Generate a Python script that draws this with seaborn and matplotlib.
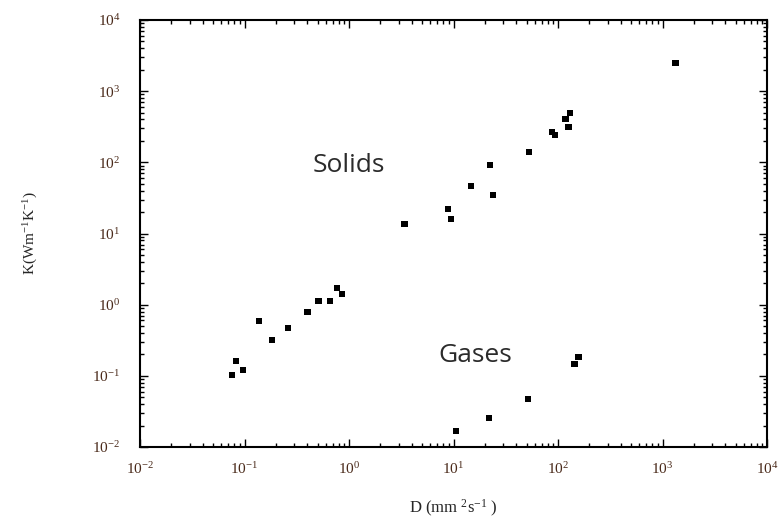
import matplotlib
matplotlib.use("Agg")
import matplotlib.pyplot as plt
import seaborn as sns
import pandas as pd
from matplotlib.ticker import LogLocator, FixedLocator

solids_D = [0.076, 0.083, 0.097, 0.138, 0.184, 0.262, 0.40, 0.51, 0.66, 0.77, 0.86,
            3.4, 8.9, 9.5, 14.8, 22.4, 24, 53, 88, 94, 118, 131, 126, 1330]
solids_K = [0.103, 0.16, 0.12, 0.59, 0.32, 0.47, 0.79, 1.12, 1.12, 1.71, 1.41,
            13.6, 22, 15.9, 46, 91, 34.6, 139, 266, 241, 404, 491, 312, 2470]
gases_D = [10.6, 22, 52, 144, 157]
gases_K = [0.0168, 0.0255, 0.047, 0.147, 0.184]

x_ticks = [1e-2, 1e-1, 1e0, 1e1, 1e2, 1e3, 1e4]
x_labels = ["$10^{-2}$", "$10^{-1}$", "$10^{0}$", "$10^{1}$", "$10^{2}$", "$10^{3}$", "$10^{4}$"]
y_ticks = [1e-2, 1e-1, 1e0, 1e1, 1e2, 1e3, 1e4]
y_labels = ["$10^{-2}$", "$10^{-1}$", "$10^{0}$", "$10^{1}$", "$10^{2}$", "$10^{3}$", "$10^{4}$"]

df = pd.DataFrame({
    "D": solids_D + gases_D,
    "K": solids_K + gases_K,
    "phase": ["Solids"] * len(solids_D) + ["Gases"] * len(gases_D),
})

sns.set_style("ticks")
plt.rcParams["mathtext.fontset"] = "custom"
plt.rcParams["mathtext.rm"] = "Liberation Serif"
plt.rcParams["mathtext.it"] = "Liberation Serif"

fig = plt.figure(figsize=(7.81, 5.18), dpi=100)
ax = fig.add_axes([140 / 781, 1 - 447 / 518, (767 - 140) / 781, (447 - 20) / 518])

sns.scatterplot(data=df, x="D", y="K", hue="phase", palette={"Solids": "black", "Gases": "black"},
                marker="s", s=20, edgecolor="black", linewidth=0, legend=False, ax=ax)

ax.set_xscale("log")
ax.set_yscale("log")
ax.set_xlim(1e-2, 1e4)
ax.set_ylim(1e-2, 1e4)

ax.xaxis.set_major_locator(FixedLocator(x_ticks))
ax.yaxis.set_major_locator(FixedLocator(y_ticks))
ax.set_xticklabels(x_labels)
ax.set_yticklabels(y_labels)
ax.xaxis.set_minor_locator(LogLocator(base=10, subs=range(2, 10), numticks=20))
ax.yaxis.set_minor_locator(LogLocator(base=10, subs=range(2, 10), numticks=20))

lab_color = "#4a2a1a"
ax.tick_params(which="both", direction="in", top=True, right=True, color="black", width=1)
ax.tick_params(which="major", length=6)
ax.tick_params(which="minor", length=3)
ax.tick_params(axis="x", which="major", pad=10, labelsize=11, labelcolor=lab_color)
ax.tick_params(axis="y", which="major", pad=14, labelsize=11, labelcolor=lab_color)
for lbl in ax.get_xticklabels() + ax.get_yticklabels():
    lbl.set_fontfamily("Liberation Serif")

for sp in ax.spines.values():
    sp.set_linewidth(1.5)
    sp.set_color("black")

ax.set_xlabel("D (mm $^{2}$s$^{-1}$ )", fontsize=12, family="Liberation Serif", labelpad=15)
ax.set_ylabel("K(Wm$^{-1}$K$^{-1}$)", fontsize=11, family="Liberation Serif", labelpad=38)

ax.text(1.0, 91, "Solids", fontsize=19, color="#2b2b2b", family="Open Sans", ha="center", va="center")
ax.text(16.2, 0.196, "Gases", fontsize=19, color="#2b2b2b", family="Open Sans", ha="center", va="center")

fig.savefig("out.png", dpi=100)
